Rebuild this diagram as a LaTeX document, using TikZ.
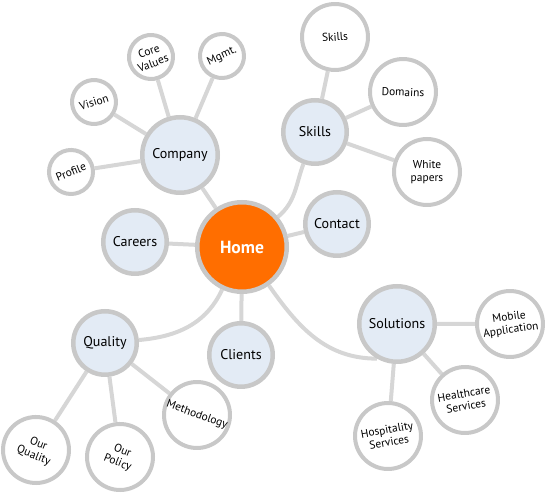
\documentclass[tikz,border=0pt]{standalone}
\usepackage{fontspec}
\setmainfont{PT Sans}
\usepackage{tikz}
\usetikzlibrary{backgrounds}
\definecolor{rim}{HTML}{C8C8C8}
\definecolor{wire}{HTML}{D6D6D6}
\definecolor{homeorange}{HTML}{FF6E00}
\definecolor{topicblue}{HTML}{E3EBF5}

\begin{document}
\begin{tikzpicture}[
    x=0.2mm, y=-0.2mm,
    hub/.style={circle, draw=rim, line width=0.9mm, fill=homeorange, minimum size=17.9mm, inner sep=0pt, font=\fontsize{10}{12}\selectfont\bfseries, text=white},
    topic/.style={circle, draw=rim, line width=0.9mm, fill=topicblue, minimum size=12.7mm, inner sep=0pt, font=\fontsize{8}{9.6}\selectfont},
    big topic/.style={topic, minimum size=15.1mm},
    leaf/.style={circle, draw=rim, line width=0.8mm, fill=white, minimum size=13.2mm, inner sep=0pt, align=center, font=\fontsize{6.5}{7.2}\selectfont},
    small leaf/.style={leaf, minimum size=8.8mm},
    link/.style={draw=wire, line width=0.8mm},
]
\useasboundingbox (0,0) rectangle (547,496);

% centre and main topics
\node[hub]       (home)      at (242,247) {Home};
\node[big topic] (company)   at (180,155) {Company};
\node[topic]     (skills)    at (315,132) {Skills};
\node[topic]     (contact)   at (337,224) {Contact};
\node[topic]     (careers)   at (135,242) {Careers};
\node[topic]     (quality)   at (105,343) {Quality};
\node[topic]     (clients)   at (241,355) {Clients};
\node[big topic] (solutions) at (397,324) {Solutions};

% company
\node[small leaf, rotate=20] (values)  at (151,57)  {Core\\Values};
\node[small leaf, rotate=25] (mgmt)    at (222,56)  {Mgmt.};
\node[small leaf, rotate=17] (vision)  at (94,102)  {Vision};
\node[small leaf, rotate=22] (profile) at (71,172)  {Profile};

% skills
\node[leaf, rotate=4]  (skillset) at (335,37)  {Skills};
\node[leaf, rotate=-2] (domains)  at (403,92)  {Domains};
\node[leaf]            (papers)   at (427,172) {White\\papers};

% quality
\node[leaf, rotate=-20] (methodology) at (197,415) {Methodology};
\node[leaf, rotate=-22] (ourquality)  at (36,450)  {Our\\Quality};
\node[leaf, rotate=-22] (policy)      at (120,457) {Our\\Policy};

% solutions
\node[leaf, rotate=8]  (mobile)      at (510,324) {Mobile\\Application};
\node[leaf, rotate=10] (health)      at (465,400) {Healthcare\\Services};
\node[leaf, rotate=10] (hospitality) at (388,436) {Hospitality\\Services};

\begin{scope}[on background layer]
\draw[link] (home) -- (company);
\draw[link] (home) -- (careers);
\draw[link] (home) -- (contact);
\draw[link] (home) -- (clients);
\draw[link] (home) to[out=40, in=-110] (skills);
\draw[link] (home) to[out=-115, in=5] (quality);
\draw[link] (home) to[out=-55, in=180] (solutions.240);
\foreach \leafname in {values, mgmt, vision, profile}
  \draw[link] (company) -- (\leafname);
\foreach \leafname in {skillset, domains, papers}
  \draw[link] (skills) -- (\leafname);
\foreach \leafname in {methodology, ourquality, policy}
  \draw[link] (quality) -- (\leafname);
\foreach \leafname in {mobile, health, hospitality}
  \draw[link] (solutions) -- (\leafname);
\end{scope}
\end{tikzpicture}
\end{document}
